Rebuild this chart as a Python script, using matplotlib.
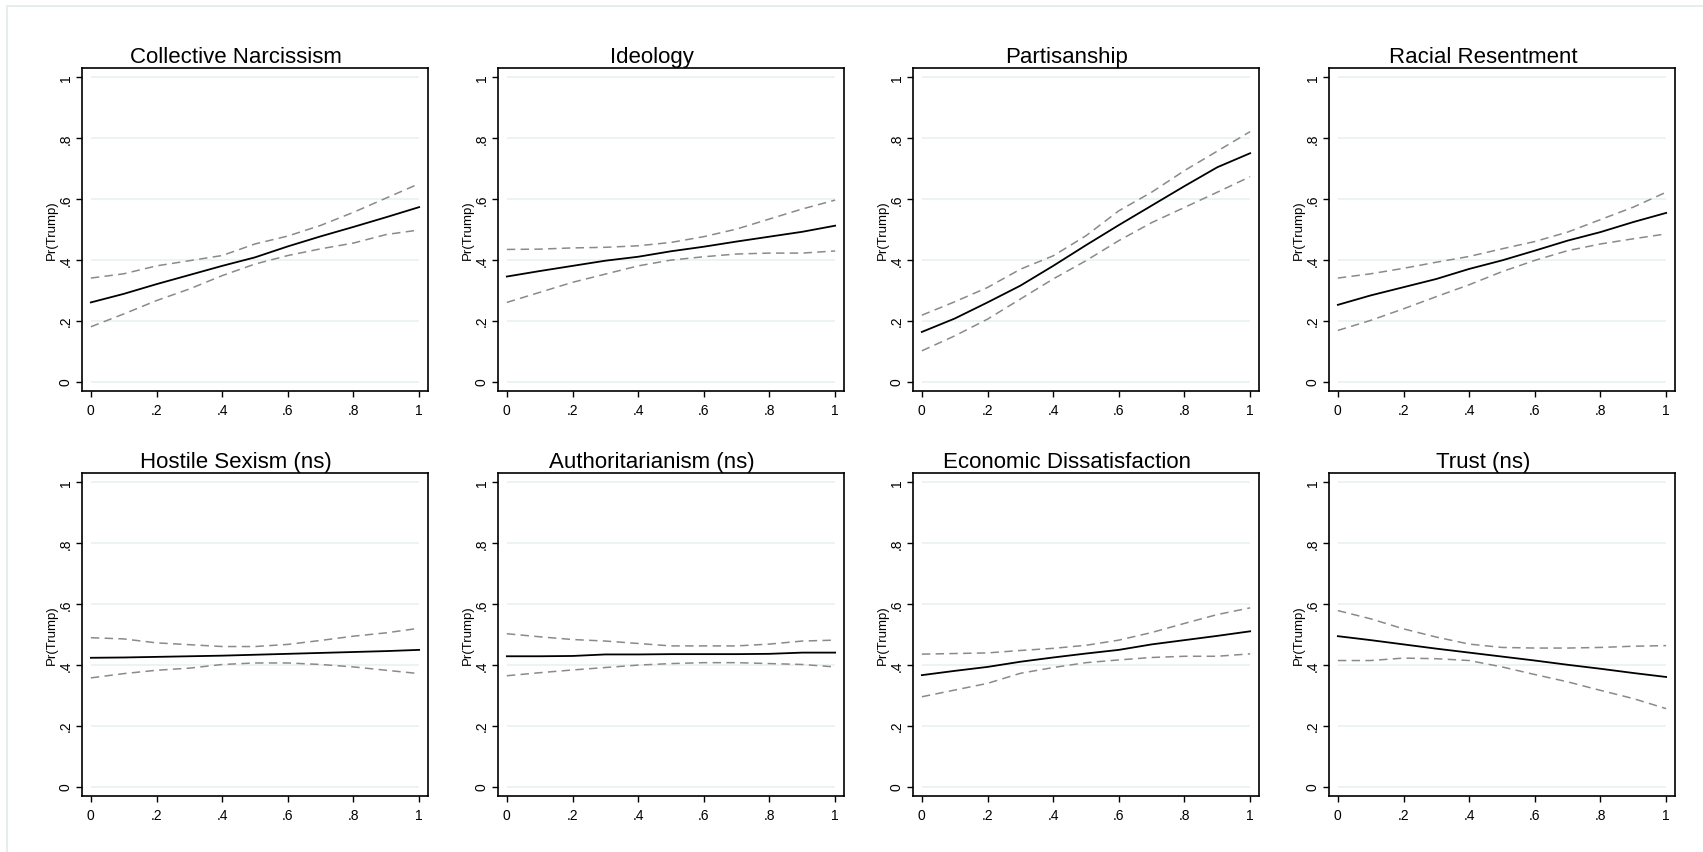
import numpy as np
import matplotlib
matplotlib.use("Agg")
import matplotlib.pyplot as plt
from matplotlib.patches import Rectangle

plt.rcParams['font.family'] = ['Liberation Sans', 'DejaVu Sans']

x = [0, .1, .2, .3, .4, .5, .6, .7, .8, .9, 1]

titles = ["Collective Narcissism", "Ideology", "Partisanship", "Racial Resentment",
          "Hostile Sexism (ns)", "Authoritarianism (ns)", "Economic Dissatisfaction", "Trust (ns)"]

# predicted probability, upper and lower 95% bounds
narc_mean = [0.26, 0.288, 0.32, 0.35, 0.38, 0.408, 0.444, 0.477, 0.508, 0.54, 0.573]
narc_hi = [0.34, 0.354, 0.38, 0.397, 0.414, 0.452, 0.478, 0.513, 0.556, 0.603, 0.65]
narc_lo = [0.18, 0.222, 0.266, 0.304, 0.348, 0.386, 0.414, 0.436, 0.455, 0.483, 0.498]

ideo_mean = [0.345, 0.363, 0.38, 0.397, 0.41, 0.428, 0.443, 0.46, 0.476, 0.492, 0.512]
ideo_hi = [0.434, 0.435, 0.439, 0.441, 0.446, 0.457, 0.476, 0.501, 0.534, 0.567, 0.596]
ideo_lo = [0.26, 0.293, 0.326, 0.353, 0.38, 0.399, 0.41, 0.419, 0.422, 0.422, 0.429]

pid_mean = [0.163, 0.207, 0.26, 0.315, 0.38, 0.448, 0.514, 0.578, 0.642, 0.704, 0.75]
pid_hi = [0.218, 0.262, 0.309, 0.369, 0.413, 0.479, 0.561, 0.622, 0.693, 0.757, 0.821]
pid_lo = [0.101, 0.15, 0.205, 0.271, 0.337, 0.397, 0.463, 0.522, 0.572, 0.622, 0.673]

rr_mean = [0.252, 0.283, 0.31, 0.337, 0.37, 0.398, 0.43, 0.463, 0.491, 0.524, 0.554]
rr_hi = [0.34, 0.354, 0.372, 0.392, 0.411, 0.436, 0.46, 0.491, 0.532, 0.573, 0.622]
rr_lo = [0.168, 0.201, 0.239, 0.279, 0.318, 0.361, 0.398, 0.43, 0.452, 0.469, 0.485]

hs_mean = [0.423, 0.424, 0.426, 0.428, 0.43, 0.433, 0.436, 0.439, 0.442, 0.445, 0.449]
hs_hi = [0.489, 0.485, 0.472, 0.466, 0.46, 0.46, 0.467, 0.48, 0.494, 0.505, 0.52]
hs_lo = [0.357, 0.371, 0.382, 0.389, 0.401, 0.406, 0.406, 0.401, 0.393, 0.382, 0.371]

auth_mean = [0.428, 0.428, 0.429, 0.434, 0.434, 0.435, 0.435, 0.435, 0.436, 0.44, 0.44]
auth_hi = [0.502, 0.492, 0.483, 0.478, 0.47, 0.462, 0.462, 0.462, 0.468, 0.478, 0.481]
auth_lo = [0.364, 0.374, 0.383, 0.391, 0.399, 0.404, 0.407, 0.407, 0.404, 0.401, 0.393]

econ_mean = [0.366, 0.38, 0.393, 0.41, 0.424, 0.437, 0.449, 0.467, 0.481, 0.495, 0.51]
econ_hi = [0.435, 0.437, 0.439, 0.447, 0.454, 0.464, 0.481, 0.506, 0.536, 0.565, 0.587]
econ_lo = [0.295, 0.317, 0.339, 0.372, 0.391, 0.407, 0.416, 0.424, 0.428, 0.428, 0.436]

trust_mean = [0.494, 0.481, 0.467, 0.453, 0.44, 0.427, 0.414, 0.4, 0.387, 0.373, 0.36]
trust_hi = [0.578, 0.551, 0.518, 0.491, 0.468, 0.457, 0.455, 0.455, 0.457, 0.461, 0.463]
trust_lo = [0.414, 0.414, 0.422, 0.42, 0.414, 0.393, 0.368, 0.344, 0.316, 0.289, 0.256]

means = [narc_mean, ideo_mean, pid_mean, rr_mean, hs_mean, auth_mean, econ_mean, trust_mean]
his = [narc_hi, ideo_hi, pid_hi, rr_hi, hs_hi, auth_hi, econ_hi, trust_hi]
los = [narc_lo, ideo_lo, pid_lo, rr_lo, hs_lo, auth_lo, econ_lo, trust_lo]

ticks = [0, .2, .4, .6, .8, 1]
tick_labels = ["0", ".2", ".4", ".6", ".8", "1"]

W, H = 1703, 853
fig = plt.figure(figsize=(W / 100, H / 100), dpi=100)

# light outer frame of the graph region
fig.patches.append(Rectangle((7 / W, -0.05), 1.1, 1 - 7 / H + 0.05, transform=fig.transFigure,
                             fill=False, edgecolor="#e4ecee", linewidth=1.3))

col_left = [82, 498, 913, 1329]
row_top = [69, 474]
aw, ah = 346, 323

for i in range(8):
    r, c = divmod(i, 4)
    left = col_left[c] / W
    bottom = 1 - (row_top[r] + ah) / H
    ax = fig.add_axes([left, bottom, aw / W, ah / H])

    ax.hlines(ticks, 0, 1, color="#eaf2f3", linewidth=1.3, zorder=0)
    ax.plot(x, his[i], color="#8a8a8a", linewidth=1.1, dashes=(5.5, 3.5))
    ax.plot(x, los[i], color="#8a8a8a", linewidth=1.1, dashes=(5.5, 3.5))
    ax.plot(x, means[i], color="black", linewidth=1.3)

    ax.set_xlim(-0.027, 1.027)
    ax.set_ylim(-0.031, 1.03)
    ax.set_xticks(ticks)
    ax.set_xticklabels(tick_labels, fontsize=10)
    ax.set_yticks(ticks)
    ax.set_yticklabels(tick_labels, fontsize=10, rotation=90, va="center")
    ax.tick_params(direction="out", length=4, width=1, pad=4.5, axis="x")
    ax.tick_params(direction="out", length=4, width=1, pad=2.5, axis="y")
    for s in ax.spines.values():
        s.set_linewidth(1.2)
    ax.set_ylabel("Pr(Trump)", fontsize=9.5, labelpad=1)
    ax.set_title(titles[i], fontsize=16, x=0.445, pad=4.5)

fig.savefig("out.png", dpi=100, facecolor="white")
